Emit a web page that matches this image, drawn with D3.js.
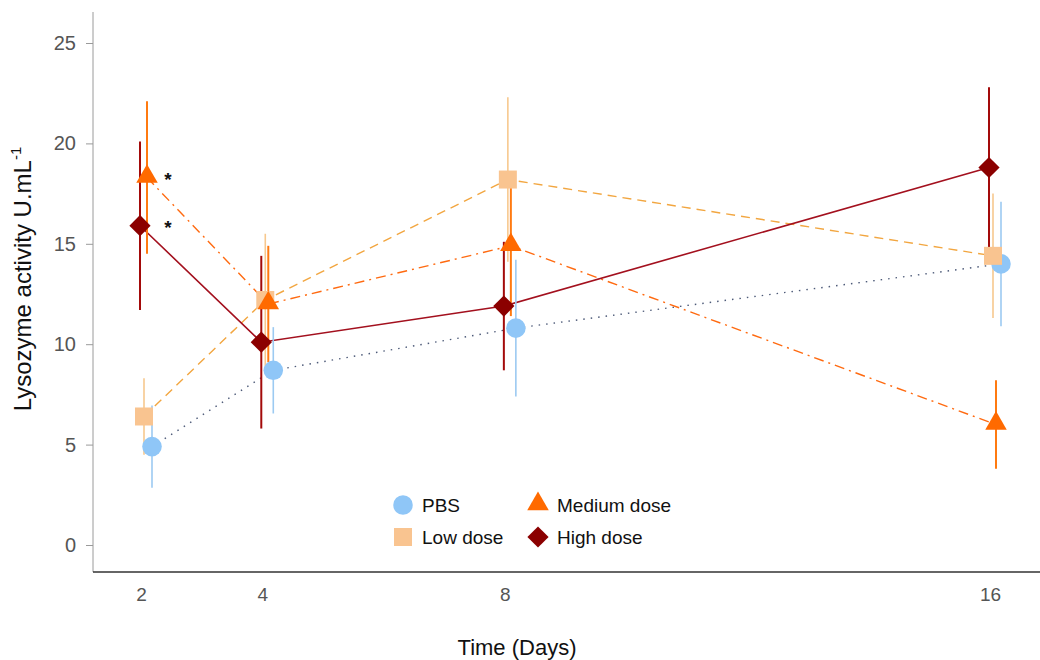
<!DOCTYPE html>
<html><head><meta charset="utf-8">
<script src="https://cdn.jsdelivr.net/npm/d3@7"></script>
<style>body{margin:0;background:#fff;} svg{display:block;font-family:"Liberation Sans",Arial,sans-serif;}</style>
</head><body>
<svg id="c" width="1040" height="660"></svg>
<script>
const days = [2, 4, 8, 16];
const seriesNames = ["PBS", "Low dose", "Medium dose", "High dose"];
const pbsMean = [4.9, 8.7, 10.8, 14.0];
const pbsErr  = [2.05, 2.15, 3.4, 3.1];
const lowMean = [6.4, 12.2, 18.2, 14.4];
const lowErr  = [1.9, 3.3, 4.1, 3.1];
const medMean = [18.3, 12.0, 14.9, 6.0];
const medErr  = [3.8, 2.9, 3.5, 2.2];
const highMean = [15.9, 10.1, 11.9, 18.8];
const highErr  = [4.2, 4.3, 3.2, 4.0];
const yTicks = [0, 5, 10, 15, 20, 25];
const sigLabels = [{day: 2, value: 18.3, text: "*"}, {day: 2, value: 15.9, text: "*"}];

const series = [
  {name: seriesNames[0], mean: pbsMean, err: pbsErr, shape: "circle", fill: "#8fc6f7", bar: "#9ccaf2", line: "#4d5a78", dash: "1.5,6", dx: 11, lw: 1.4},
  {name: seriesNames[1], mean: lowMean, err: lowErr, shape: "square", fill: "#f9c490", bar: "#f7c88e", line: "#f2a640", dash: "9,6", dx: 3, lw: 1.4},
  {name: seriesNames[2], mean: medMean, err: medErr, shape: "triangle", fill: "#ff6a00", bar: "#ff7a10", line: "#ff6a10", dash: "10,5,2,5", dx: 6, lw: 1.4},
  {name: seriesNames[3], mean: highMean, err: highErr, shape: "diamond", fill: "#8b0000", bar: "#a30a0a", line: "#a3101e", dash: null, dx: -1, lw: 1.6}
];

const svg = d3.select("#c");
const x = d3.scaleLinear().domain([2, 16]).range([141, 990]);
const y = d3.scaleLinear().domain([0, 25]).range([545, 43]);

// axes
svg.append("line").attr("x1", 93).attr("x2", 93).attr("y1", 12).attr("y2", 572).attr("stroke", "#9a9a9a").attr("stroke-width", 1);
svg.append("line").attr("x1", 93).attr("x2", 1040).attr("y1", 572).attr("y2", 572).attr("stroke", "#333").attr("stroke-width", 1.3);
const yAxis = d3.axisLeft(y).tickValues(yTicks).tickSize(7).tickPadding(10);
const gy = svg.append("g").attr("transform", "translate(93,0)").call(yAxis);
gy.select(".domain").remove();
gy.selectAll(".tick line").attr("stroke", "#9a9a9a");
gy.selectAll(".tick text").attr("font-size", 20).attr("fill", "#555").attr("font-family", "Liberation Sans, Arial, sans-serif");
const xAxis = d3.axisBottom(x).tickValues(days).tickSize(0).tickPadding(16);
const gx = svg.append("g").attr("transform", "translate(0,572)").call(xAxis);
gx.select(".domain").remove();
gx.selectAll(".tick text").attr("font-size", 19).attr("fill", "#555").attr("font-family", "Liberation Sans, Arial, sans-serif");

// labels
const yl = svg.append("text").attr("transform", "translate(31,279) rotate(-90)").attr("text-anchor", "middle").attr("font-size", 24).attr("fill", "#111");
yl.append("tspan").text("Lysozyme activity U.mL");
yl.append("tspan").text("-1").attr("font-size", 15).attr("dy", -10);
svg.append("text").attr("x", 517).attr("y", 655).attr("text-anchor", "middle").attr("font-size", 22).attr("fill", "#111").text("Time (Days)");

function symPath(shape, size) {
  const t = {circle: d3.symbolCircle, square: d3.symbolSquare, triangle: d3.symbolTriangle, diamond: d3.symbolSquare}[shape];
  return d3.symbol().type(t).size(size)();
}
const sizes = {circle: 300, square: 324, triangle: 200, diamond: 225};
function drawMarker(g, s, cx, cy) {
  const p = g.append("path").attr("d", symPath(s.shape, sizes[s.shape])).attr("fill", s.fill);
  if (s.shape === "diamond") p.attr("transform", `translate(${cx},${cy}) rotate(45)`);
  else if (s.shape === "triangle") p.attr("transform", `translate(${cx},${cy - 1})`);
  else p.attr("transform", `translate(${cx},${cy})`);
}

// lines
const line = d3.line();
series.forEach(s => {
  const pts = days.map((d, i) => [x(d) + s.dx, y(s.mean[i])]);
  svg.append("path").attr("d", line(pts)).attr("fill", "none").attr("stroke", s.line)
    .attr("stroke-width", s.lw).attr("stroke-dasharray", s.dash);
});
// error bars
series.forEach(s => {
  days.forEach((d, i) => {
    svg.append("line").attr("x1", x(d) + s.dx).attr("x2", x(d) + s.dx)
      .attr("y1", y(s.mean[i] - s.err[i])).attr("y2", y(s.mean[i] + s.err[i]))
      .attr("stroke", s.bar).attr("stroke-width", s.shape === "diamond" || s.shape === "triangle" ? 2 : 1.6);
  });
});
// markers
series.forEach(s => {
  days.forEach((d, i) => drawMarker(svg, s, x(d) + s.dx, y(s.mean[i])));
});
// significance
sigLabels.forEach(l => {
  svg.append("text").attr("x", x(l.day) + 27).attr("y", y(l.value) + 8).attr("text-anchor", "middle")
    .attr("font-size", 19).attr("font-weight", "bold").attr("fill", "#111").text(l.text);
});

// legend
const legPos = [[403, 505], [403, 537], [538, 505], [538, 537]];
series.forEach((s, i) => {
  const [lx, ly] = legPos[i];
  drawMarker(svg, s, lx, ly);
  svg.append("text").attr("x", lx + 19).attr("y", ly + 7).attr("font-size", 19).attr("fill", "#111").text(s.name);
});
</script>
</body></html>
